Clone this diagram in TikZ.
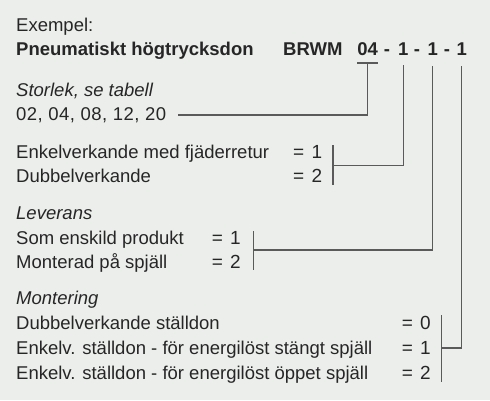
\documentclass[tikz,border=0pt]{standalone}
\usepackage{fontspec}
\setmainfont{Liberation Sans}
\usetikzlibrary{calc}
\definecolor{bgc}{RGB}{235,238,235}
\definecolor{txtc}{RGB}{38,38,38}
\definecolor{lnc}{RGB}{90,90,90}
\begin{document}
\begin{tikzpicture}[x=1pt,y=-1pt,
  lbl/.style={anchor=base west, inner sep=0pt, text=txtc, font=\fontsize{18.5}{22}\selectfont},
  lbli/.style={lbl, font=\fontsize{18.5}{22}\selectfont\itshape},
  lblb/.style={lbl, font=\fontsize{18.5}{22}\selectfont\bfseries},
  code/.style={anchor=base, inner sep=0pt, text=txtc, font=\fontsize{18.5}{22}\selectfont\bfseries},
  val/.style={lbl, font=\fontsize{19}{22}\selectfont},
  conn/.style={draw=lnc, line width=1.4pt}]
\fill[bgc] (0,0) rectangle (490,400);
\useasboundingbox (0,0) rectangle (490,400);

% header
\node[lbl]  (ex)   at (16,31.7) {Exempel:};
\node[lblb] (pn)   at (16,55) {Pneumatiskt högtrycksdon};
\node[lblb] (brwm) at (283,55) {BRWM};
\node[code] (c04)  at (367.7,55) {04};
\node[code] (h1)   at (387,55) {-};
\node[code] (d1)   at (403.3,55) {1};
\node[code] (h2)   at (417,55) {-};
\node[code] (d2)   at (432.7,55) {1};
\node[code] (h3)   at (447,55) {-};
\node[code] (d3)   at (461.7,55) {1};

% Storlek
\node[lbli] (st)  at (16,96.7) {Storlek, se tabell};
\node[lbl]  (sz)  at (16,120) {\addfontfeature{LetterSpace=2.5}02, 04, 08, 12, 20};
\coordinate (szend) at (178,115);

% group 1
\node[lbl] (g1a) at (16,158) {Enkelverkande med fjäderretur};
\node[lbl] (g1b) at (16,182) {Dubbelverkande};
\node[val] (v1a) at (293,158) {=\hspace{0.38em}1};
\node[val] (v1b) at (293,182) {=\hspace{0.38em}2};
\coordinate (b1t) at (333,145);
\coordinate (b1b) at (333,185);
\coordinate (b1m) at (333,165.5);

% group 2
\node[lbli] (lev) at (16,219.3) {Leverans};
\node[lbl] (g2a) at (16,244.3) {Som enskild produkt};
\node[lbl] (g2b) at (16,268.3) {Monterad på spjäll};
\node[val] (v2a) at (211.7,244.3) {=\hspace{0.38em}1};
\node[val] (v2b) at (211.7,268.3) {=\hspace{0.38em}2};
\coordinate (b2t) at (253.5,231);
\coordinate (b2b) at (253.5,270);
\coordinate (b2m) at (253.5,250);

% group 3
\node[lbli] (mon) at (16,304.3) {Montering};
\node[lbl] (g3a) at (16,329.5) {Dubbelverkande ställdon};
\node[lbl] (g3b) at (16,354.5) {Enkelv. ställdon - för energilöst stängt spjäll};
\node[lbl] (g3c) at (16,379.5) {Enkelv. ställdon - för energilöst öppet spjäll};
\node[val] (v3a) at (401.7,329.5) {=\hspace{0.38em}0};
\node[val] (v3b) at (401.7,354.5) {=\hspace{0.38em}1};
\node[val] (v3c) at (401.7,379.5) {=\hspace{0.38em}2};
\coordinate (b3t) at (441.7,315);
\coordinate (b3b) at (441.7,382);
\coordinate (b3m) at (441.7,348);

% connectors
\draw[conn] ($(c04.south west)+(0,7.7)$) -- ($(c04.south east)+(0,7.7)$);
\draw[conn] ($(c04.south)+(0,7.7)$) |- (szend);
\draw[conn] ($(d1.south)+(0,10)$) |- (b1m);
\draw[conn] (b1t) -- (b1b);
\draw[conn] ($(d2.south)+(0,11)$) |- (b2m);
\draw[conn] (b2t) -- (b2b);
\draw[conn] ($(d3.south)+(0,11)$) |- (b3m);
\draw[conn] (b3t) -- (b3b);
\end{tikzpicture}
\end{document}
